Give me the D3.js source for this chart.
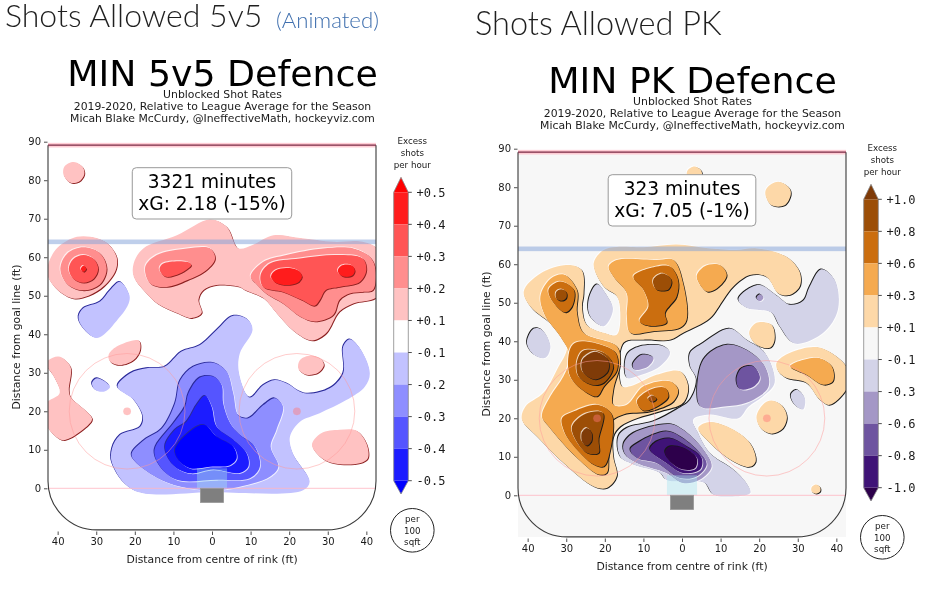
<!DOCTYPE html>
<html>
<head>
<meta charset="utf-8">
<title>MIN shots allowed</title>
<script src="https://cdn.jsdelivr.net/npm/d3@7"></script>
<style>
  body { margin: 0; background: #fff; }
  svg { display: block; filter: blur(0.3px); }
  text { font-family: "DejaVu Sans", sans-serif; fill: #1a1a1a; }
  .header { font-family: Lato, "Open Sans", sans-serif; font-weight: 300; fill: #1f1f1f; }
</style>
</head>
<body>
<svg id="chart" width="935" height="589"></svg>
<script>
// tick labels, top to bottom of each colourbar
var evenTicks = ["+0.5", "+0.4", "+0.3", "+0.2", "+0.1", "-0.1", "-0.2", "-0.3", "-0.4", "-0.5"];
var pkTicks = ["+1.0", "+0.8", "+0.6", "+0.3", "+0.1", "-0.1", "-0.3", "-0.6", "-0.8", "-1.0"];

// colours from above the top tick to below the bottom tick
var evenColours = ["#ff0000", "#ff1c1c", "#ff5555", "#ff8e8e", "#ffc2c2", "#ffffff", "#c2c2ff", "#8e8eff", "#5555ff", "#1c1cff", "#0000ff"];
var pkColours = ["#7f3b08", "#9c4e06", "#cb6e0f", "#f5aa50", "#fdd8a8", "#f7f7f7", "#d3d3e8", "#a497c6", "#6e54a0", "#3f1377", "#2d004b"];

// contour outlines, [feet from centre, feet from goal line]
// 5v5, excess shots above league average
var evenPlus1 = [
  [[-35.8,84.7],[-33.5,83.4],[-33.1,81.5],[-34.5,79.6],[-36.8,79.4],[-38.5,81.5],[-38.2,83.6]],
  [[-42.5,58],[-40,62.5],[-35,65.3],[-30,65],[-27,63.5],[-24.7,60],[-25,56.5],[-28,52.5],[-32,50],[-36,49.3],[-40,51.5],[-42.5,55]],
  [[-20.3,58.4],[-17.8,62.3],[-9.1,65.7],[-0.5,69.8],[3.8,67.9],[6.8,62.3],[10.5,63.2],[15.9,65.7],[22.8,65],[31.4,64],[39,64],[43,61.9],[43,50],[36.6,48],[33,45.9],[29.6,40.3],[25.9,38.4],[21,41],[16.7,45.5],[13.3,49.4],[8.5,51.5],[7.2,52.3],[1.2,52.8],[-2.2,51.5],[-3.5,49],[-2.7,45.5],[-5.3,44.2],[-9.1,45.5],[-14.2,48],[-17.8,51.5],[-20.3,55]],
  [[-26.8,34.6],[-24.7,36.8],[-19,38.4],[-18.6,36],[-20.3,33.3],[-23.8,32],[-26.4,32.9]],
  [[-43,32.5],[-39.8,34.2],[-36.7,31.6],[-37.1,25.5],[-36.7,23.8],[-31.1,18.2],[-32,16.5],[-38.4,12.5],[-41,13.9],[-43,16.9],[-43,22],[-39.5,24.7],[-41,29]],
  [[25.6,34.5],[28.2,33.6],[29,32],[27.5,30],[24.5,29.5],[22.4,31],[22.8,33.3]],
  [[25.9,11.3],[28.3,14.3],[33.1,15.2],[37.4,15],[40,11.7],[40.4,7.8],[38.3,6.5],[31.4,6.5],[28,8.2]]
];
var evenPlus2 = [
  [[-39.3,57],[-37.5,61],[-33.3,62.6],[-29,61],[-27.3,57],[-29,53],[-33.3,51.4],[-37.5,53]],
  [[-17.3,57.5],[-14.3,60.6],[-6.5,62.3],[-0.5,62.3],[0.8,59.7],[-1.4,56.7],[-6.5,54],[-11.7,52.3],[-16,53.2]],
  [[10,55],[13.3,58.8],[19.3,60.6],[28.8,62.3],[36.6,62.3],[41,60],[42.4,56.7],[41.7,51.5],[39,51],[35.7,50.6],[33.1,49],[31.4,45],[26.6,43.3],[22.8,44.6],[18.4,48],[14,50.6],[11.5,53]]
];
var evenPlus3 = [
  [[-37.1,57],[-36,59.5],[-33.3,60.6],[-30.6,59.5],[-29.5,57],[-30.6,54.5],[-33.3,53.4],[-36,54.5]],
  [[-13.6,57],[-12.6,58.4],[-6.5,58.8],[-5.4,58],[-8.3,55.8],[-12.2,55]],
  [[12.6,55.4],[15,58.4],[22.8,59.7],[32.2,60.6],[39,59.7],[40,56.7],[38.3,53.6],[33,52.3],[29.5,51.5],[28,49],[26.6,47.4],[23,49],[18.4,51],[13.3,52.3]]
];
var evenPlus4 = [
  [[-33.3,57.8],[-32.6,57],[-33.3,56.2],[-34,57]],
  [[15.3,55],[16.5,56.6],[19.3,57.2],[22.2,56.6],[23.3,55],[22.2,53.4],[19.3,52.8],[16.5,53.4]],
  [[32.6,56.5],[33.4,57.7],[34.8,58.1],[36.4,57.7],[37,56.5],[36.4,55.3],[34.8,54.9],[33.4,55.3]]
];
var evenMinus1 = [
  [[-23.8,53.6],[-21.4,50.2],[-21.6,48],[-23.8,44.6],[-29.8,39],[-33.7,42],[-34.6,44.6],[-33.3,46.8],[-29,48.5],[-26.4,51.5]],
  [[-31.1,27.3],[-29.8,28.6],[-26.4,26.4],[-28.1,25.1],[-30.2,25.5]],
  [[-24.5,26.4],[-21.2,29.9],[-16.9,31.2],[-12.2,31.6],[-7.9,35.5],[-3.1,37.2],[1.2,41.1],[5.5,44.8],[9.4,43.7],[10.5,41.1],[7.2,35],[7,29.9],[9.8,23.6],[13.3,26.8],[16.3,28.1],[19.3,27.3],[24,24.7],[30.5,26],[34,29.9],[34,36.8],[35.7,38.7],[38.3,36.4],[40.9,29.9],[39.6,26.4],[34.8,22.9],[27.9,19.5],[22.8,17.3],[20.2,13.4],[21,9],[25.3,1.7],[23.6,-0.5],[0,-1],[-20.3,-0.5],[-25.9,6.5],[-25.9,10.4],[-23.8,13.9],[-18.6,16],[-17.9,18.6],[-20.3,23]]
];
var evenMinus2 = [
  [[-20.8,9.1],[-17.5,12.6],[-13,15.5],[-9.6,22],[-8.2,28.1],[-4.8,31.6],[0.3,32.6],[3.8,30.3],[5.5,24.7],[6.8,19],[9.4,18.2],[13.3,21.6],[16.3,23.4],[18.4,21.2],[16.7,15.2],[15.2,10.8],[17.2,5.6],[15,3],[7.2,0.4],[0,-0.5],[-8,0.4],[-14,2.6],[-20.3,7.4]]
];
var evenMinus3 = [
  [[-14.9,10],[-10,16.9],[-7,21.2],[-6.1,24.7],[-3.1,28.8],[0.3,29],[2.5,26.8],[2.9,22],[4.7,16.9],[7.2,13.9],[11.1,10.8],[12.4,5.6],[9.8,2.6],[1.2,2.2],[-9.1,2.2],[-13.4,5.6]]
];
var evenMinus4 = [
  [[-12.2,10.8],[-9.6,15.2],[-6.6,17.3],[-4,21.6],[-1.8,24],[-0.1,21.2],[1.2,16],[5.5,12.6],[9,9],[9.4,5.6],[7.2,4],[0.3,4.9],[-5.7,3.9],[-10,6]]
];
var evenMinus5 = [
  [[-9.6,10],[-7.3,13.4],[-2.2,16.5],[1.2,13.4],[5.5,10.8],[6.4,7.8],[4.7,6],[-0.5,5.6],[-5.7,5.2],[-8.7,7.4]]
];

// penalty kill
var pkPlus1 = [
  [[3.2,85.4],[5,84.3],[5,82.5],[3.2,81.4],[1.4,82.5],[1.4,84.3]],
  [[24.9,81.4],[27.8,79.8],[28.2,78.1],[26.6,75.3],[23.2,75.3],[21.6,78.1],[22,79.8]],
  [[-22.9,60.2],[-20.3,63.7],[-16.9,64.5],[-10,64.4],[-1.4,65.1],[7.2,64.1],[14.1,63.7],[19.3,64.1],[27,62],[30.5,58],[30.5,54.2],[27.9,52],[25,52.4],[21.9,56.7],[17.6,57.2],[13.3,54.2],[10.7,50.8],[7.2,46],[0.3,42.2],[-3.1,40.4],[-10,40.4],[-15.2,39.6],[-15.6,28.3],[-13.4,28.3],[-6.6,31.3],[-0.5,32.2],[1.6,28.3],[0.3,24],[-5.7,21.8],[-11.7,20],[-16,17.9],[-17.8,15.3],[-17.8,10],[-16.9,5],[-19.5,1.9],[-22.9,2.3],[-30.7,8.4],[-37.6,15.3],[-41.5,19.7],[-40.6,23],[-35.9,26.6],[-32.4,32.6],[-29.8,38.7],[-33.3,43.9],[-39.3,49],[-41,53],[-36.7,57.6],[-29.8,59.8],[-26,58.5],[-25.5,52.4],[-25.9,49],[-24.7,44.3],[-20.3,42.2],[-16.9,41.7],[-16,47.4],[-16.9,51.7],[-20.3,54.2]],
  [[24.5,34.4],[28,37],[34.9,38.5],[40,36.1],[43,32.6],[43,28.3],[38.3,23.5],[35.7,24.8],[32.2,29.2],[27,30.5],[24.9,32.2]],
  [[17.4,42.2],[19.3,44.8],[23.2,44.3],[24,40.4],[22.8,38.3],[19.3,39.1]],
  [[19.3,20.3],[21,23.6],[23.2,24.6],[26,23.2],[27.2,20.3],[26,17.2],[23.2,16],[20.6,17.2]],
  [[4.2,17.5],[6.8,19],[11.6,17.9],[17.6,13.6],[19.1,8.8],[17.6,7.4],[13.3,8.8],[7.2,13.6]],
  [[34.7,2.8],[35.8,2.1],[35.8,1],[34.7,0.4],[33.6,1],[33.6,2.1]]
];
var pkPlus2 = [
  [[-19,59.4],[-16.9,61.1],[-6.6,61.1],[-2.2,61.1],[0.3,55],[1.2,45.6],[-0.5,43.5],[-7.4,42.6],[-13.4,42.2],[-14.3,46.5],[-14.3,52.4],[-17.8,56.8]],
  [[3.8,56.8],[5.9,59.5],[9.8,59.8],[11.6,57.2],[9,53.7],[6.4,52.9]],
  [[-36.7,51.6],[-34,56.3],[-30.5,57.3],[-27.2,53.3],[-27.2,47.4],[-25.5,42.2],[-16.9,38.7],[-16,34.4],[-17.8,27.4],[-17.8,23.5],[-14.3,23.5],[-10,28.3],[-3.1,29.6],[-1,27.4],[-2.2,24.4],[-8.3,21.8],[-15.2,21],[-18.6,18.8],[-19,10.1],[-19.5,5.8],[-21.6,5.4],[-27.2,9.7],[-34.6,17.9],[-36.3,20.5],[-34.1,25.7],[-30.7,30.9],[-29,36],[-31.6,41.3],[-35.4,46.5]],
  [[28,33.5],[34.9,35.7],[38.8,33.5],[39.1,29.6],[36.6,28.7],[32.2,31.3]]
];
var pkPlus3 = [
  [[-12.6,56.8],[-6.6,59.4],[-3.1,59.4],[-1,55.9],[-1.4,51.6],[-4.4,47.4],[-4,44.8],[-8.3,44],[-11,45.2],[-8.7,49],[-10,53.4]],
  [[-34.6,53.4],[-31.6,55.5],[-28,53.3],[-28.5,49],[-30.3,47.5],[-33.3,50]],
  [[-29,38],[-27.2,39.8],[-21,39.1],[-17.2,37],[-16.8,32.6],[-20.2,28.3],[-22,25.7],[-24.7,26.6],[-29,30.9]],
  [[-31.1,20],[-28,21.8],[-22,23.5],[-18.2,21],[-19,10],[-20.3,7.5],[-22.9,8],[-29,14],[-30.7,17]],
  [[-11.7,24.4],[-8.3,27.4],[-4.4,27.9],[-3.5,25.7],[-5.7,23.5],[-10,22]]
];
var pkPlus4 = [
  [[-5.1,57.6],[-3,56.4],[-2.7,55.2],[-3.6,53.4],[-6.6,53.4],[-7.5,55.2],[-7.2,56.4]],
  [[-31.3,53.5],[-30,52.8],[-30,51.2],[-31.3,50.5],[-32.6,51.2],[-32.6,52.8]],
  [[-27.2,34.8],[-25.5,37.6],[-20.3,37],[-17.8,33.5],[-20.3,29.2],[-23.4,28.7],[-26.8,30.9]],
  [[-28.5,17.9],[-25,21.2],[-20.5,21.4],[-21.6,14.5],[-21.6,11],[-24.6,11],[-27.6,14.5]],
  [[-7.7,25.9],[-6.6,25.1],[-7.7,24.3],[-8.8,25.1]]
];
var pkPlus5 = [
  [[-22.5,37.3],[-19.4,35.5],[-18.9,33.7],[-19.4,31.9],[-22.5,30.1],[-25.6,31.9],[-26.1,33.7],[-25.6,35.5]],
  [[-24.7,17.5],[-23.5,16.4],[-23.3,15.2],[-23.5,14],[-24.7,12.9],[-25.9,14],[-26.1,15.2],[-25.9,16.4]]
];
var pkMinus1 = [
  [[-24.2,50.8],[-22,54.8],[-19.5,52],[-17.9,48.2],[-20.3,43.9],[-23.8,46.5]],
  [[-40.2,39.6],[-38.4,43.3],[-36.3,43],[-34.1,38.7],[-35.4,35.7],[-38.4,36.5]],
  [[-14.3,36.5],[-10.9,38.7],[-4.8,38.7],[-3.1,37],[-5.7,33.5],[-11.7,30.9],[-14.3,30.5]],
  [[33.1,54.2],[36.1,58.7],[39.6,55.9],[40.4,48.2],[36.6,42.2],[29.2,39.4],[25.3,43.9],[23.2,47.4],[16.7,48.7],[14.6,50.8],[16.7,53.3],[20.2,54.6],[24.9,51.6],[27.9,49.5],[31.4,50.5]],
  [[2.1,37],[5.5,39.6],[12.4,43.3],[16.7,40.4],[21.5,37],[24,29.2],[21,25.7],[17.2,23],[14.6,20],[7.2,21],[2.9,19.7],[4.2,16.2],[7.2,11],[13.3,6.7],[16.7,3.2],[17.7,0.6],[12.4,-0.3],[8.1,0.2],[5.9,3.2],[2.1,3.6],[-4,4],[-5.7,5.8],[-12.6,8],[-16,10],[-16.5,15.3],[-14.3,17.5],[-7.4,19.2],[-1.4,22.3],[2.1,24.8],[3.8,30],[2.1,33.5]],
  [[28.2,26.1],[29.7,27.4],[31.8,25.3],[31.4,22.3],[29.2,23.5]]
];
var pkMinus2 = [
  [[-12.8,33.9],[-10.4,36.5],[-7.4,35.7],[-8.7,33.5],[-12.2,32.6]],
  [[20.2,52.2],[21.1,51.3],[20.2,50.4],[19.3,51.3]],
  [[4.2,24],[5.5,35.2],[11.6,39.1],[18.4,36.7],[21.9,32.6],[22.3,27.9],[16.7,24],[11.6,23.1],[5.5,22.7]],
  [[-15.2,13.2],[-12.6,16.2],[-3.1,18.5],[0.3,17],[5.5,11.9],[7.7,7.5],[4.7,4.1],[0.3,3.2],[-4,5.8],[-11.7,8.4],[-14.7,10.6]]
];
var pkMinus3 = [
  [[14.1,30],[15.4,33],[18.4,33.5],[20.2,30.5],[18.4,28.1],[15,27.6]],
  [[-13.4,11.9],[-10.9,14],[-4,16.6],[-0.5,15.3],[4.7,11],[6.4,8],[3.8,4.9],[-0.5,4.5],[-6.6,8.4],[-11.7,9.7]]
];
var pkMinus4 = [
  [[-8.3,11.9],[-6.6,14],[-3.1,14.8],[1.2,12.7],[5.1,9.7],[4.7,6.7],[0.3,5.8],[-4,8.4]]
];
var pkMinus5 = [
  [[-4.4,11.4],[-3.1,12.7],[0.3,12.3],[3.8,9.7],[3.4,7.1],[0.3,6.7],[-3.1,8.8]]
];

// tick values on the rink axes
var xTickValues = [-40, -30, -20, -10, 0, 10, 20, 30, 40];
var yTickValues = [0, 10, 20, 30, 40, 50, 60, 70, 80, 90];

// the side of the rink drawn the same way in both panels
var x = d3.scaleLinear().domain([-42.5, 42.5]).range([48, 376]);
var y = d3.scaleLinear().domain([90, 0]).range([141.7, 488.3]);
var contourLine = d3.line()
  .x(d => x(d[0]))
  .y(d => y(d[1]))
  .curve(d3.curveCatmullRomClosed.alpha(0.5));

var svg = d3.select("#chart");

// outline of the offensive zone, square at the top and rounded at the bottom
function rinkPath(closed) {
  var p = d3.path();
  var r = x(42.5) - x(29.8);
  p.moveTo(x(-42.5), y(89.1));
  p.lineTo(x(-42.5), y(4));
  p.arcTo(x(-42.5), y(-10.8), x(-29.8), y(-10.8), r);
  p.lineTo(x(29.8), y(-10.8));
  p.arcTo(x(42.5), y(-10.8), x(42.5), y(4), r);
  p.lineTo(x(42.5), y(89.1));
  if (closed) p.closePath();
  return p.toString();
}

function drawPanel(panel) {
  var g = svg.append("g").attr("transform", "translate(" + panel.dx + "," + panel.dy + ")");

  g.append("text").text(panel.title)
    .attr("x", 222.5).attr("y", 85.7).attr("text-anchor", "middle")
    .style("font-size", "36.3px").style("fill", "#000");
  var subtitles = ["Unblocked Shot Rates", "2019-2020, Relative to League Average for the Season", "Micah Blake McCurdy, @IneffectiveMath, hockeyviz.com"];
  g.selectAll(".sub").data(subtitles).join("text")
    .text(d => d)
    .attr("x", 222.5).attr("y", (d, i) => 97.7 + i * 12.2).attr("text-anchor", "middle")
    .style("font-size", "10.85px");

  // ice colour behind everything
  g.append("rect")
    .attr("x", x(-42.5)).attr("y", y(89.1))
    .attr("width", x(42.5) - x(-42.5)).attr("height", y(-10.8) - y(89.1))
    .attr("fill", panel.colours[5]);

  var clipId = "rink" + panel.dx;
  g.append("clipPath").attr("id", clipId).append("path").attr("d", rinkPath(true));
  var ice = g.append("g").attr("clip-path", "url(#" + clipId + ")");

  // contours go down from the weakest band, each with an embossed edge
  panel.levels.forEach(function(level) {
    var sign = level.band > 0 ? 1 : -1;
    var fill = panel.colours[5 - level.band];
    level.shapes.forEach(function(shape) {
      ice.append("path").attr("d", contourLine(shape))
        .attr("fill", "#fff").attr("opacity", 0.75)
        .attr("transform", "translate(" + (-sign * 0.8) + "," + (-sign * 0.8) + ")");
      ice.append("path").attr("d", contourLine(shape))
        .attr("fill", sign > 0 ? panel.edgeUp : panel.edgeDown)
        .attr("transform", "translate(" + (sign * 0.8) + "," + (sign * 0.8) + ")");
      ice.append("path").attr("d", contourLine(shape)).attr("fill", fill);
    });
  });

  // rink markings
  ice.append("rect")
    .attr("x", x(-3.9)).attr("y", y(5.2))
    .attr("width", x(3.9) - x(-3.9)).attr("height", y(0) - y(5.2))
    .attr("fill", "#a6e4f0").attr("opacity", 0.4);
  ice.append("rect")
    .attr("x", x(-42.5)).attr("y", y(64.6))
    .attr("width", x(42.5) - x(-42.5)).attr("height", y(63.4) - y(64.6))
    .attr("fill", "#7f9fd8").attr("opacity", 0.5);
  ice.append("line")
    .attr("x1", x(-42.5)).attr("x2", x(42.5)).attr("y1", y(0)).attr("y2", y(0))
    .attr("stroke", "#ffb6c1").attr("stroke-width", 1).attr("opacity", 0.8);
  [-22, 22].forEach(function(cx) {
    ice.append("ellipse")
      .attr("cx", x(cx)).attr("cy", y(20))
      .attr("rx", x(15) - x(0)).attr("ry", y(0) - y(15))
      .attr("fill", "none").attr("stroke", "#ff9999").attr("stroke-width", 1).attr("opacity", 0.5);
    ice.append("ellipse")
      .attr("cx", x(cx)).attr("cy", y(20))
      .attr("rx", x(1) - x(0)).attr("ry", y(0) - y(1))
      .attr("fill", "#ff7777").attr("opacity", 0.45);
  });
  ice.append("rect")
    .attr("x", x(-3)).attr("y", y(0))
    .attr("width", x(3) - x(-3)).attr("height", y(-3.7) - y(0))
    .attr("fill", "#7f7f7f").attr("stroke", "#999").attr("stroke-width", 0.8);

  g.append("rect")
    .attr("x", x(-42.5)).attr("y", y(89.7))
    .attr("width", x(42.5) - x(-42.5)).attr("height", y(88.5) - y(89.7))
    .attr("fill", "#ffc0cb").attr("opacity", 0.8);
  g.append("path").attr("d", rinkPath(false))
    .attr("fill", "none").attr("stroke", "#3a3a3a").attr("stroke-width", 1.1);
  g.append("line")
    .attr("x1", x(-42.5)).attr("x2", x(42.5)).attr("y1", y(89.1)).attr("y2", y(89.1))
    .attr("stroke", "#7a2a45").attr("stroke-width", 1.2);

  // minutes and xG box
  var box = g.append("g");
  var boxRect = box.append("rect");
  var boxText = box.append("text").attr("text-anchor", "middle").style("font-size", "18.6px").style("fill", "#000");
  panel.stats.forEach(function(line, i) {
    boxText.append("tspan").text(line).attr("x", x(0)).attr("y", 188 + i * 22);
  });
  var bb = boxText.node().getBBox();
  boxRect
    .attr("x", bb.x - 6).attr("y", 167.7)
    .attr("width", bb.width + 12).attr("height", 51.3)
    .attr("rx", 4).attr("fill", "#fff").attr("stroke", "#999").attr("stroke-width", 1);

  // axes
  var yAxis = d3.axisLeft(y).tickValues(yTickValues).tickSize(3.5).tickPadding(3);
  var gy = g.append("g").attr("transform", "translate(47.5,0)").call(yAxis);
  var xAxis = d3.axisBottom(x).tickValues(xTickValues).tickSize(3.5).tickPadding(3)
    .tickFormat(d => Math.abs(d));
  var gx = g.append("g").attr("transform", "translate(0,531.5)").call(xAxis);
  [gx, gy].forEach(function(a) {
    a.select(".domain").remove();
    a.selectAll("text").style("font-size", "10px").style("font-family", '"DejaVu Sans"').style("fill", "#1a1a1a");
    a.selectAll("line").attr("stroke", "#222").attr("stroke-width", 0.8);
  });
  g.append("text").text("Distance from centre of rink (ft)")
    .attr("x", x(0)).attr("y", 562.5).attr("text-anchor", "middle").style("font-size", "10.8px");
  g.append("text").text("Distance from goal line (ft)")
    .attr("transform", "translate(19.5,337) rotate(-90)").attr("text-anchor", "middle").style("font-size", "10.8px");

  drawColourbar(g, panel);
}

function drawColourbar(g, panel) {
  var barLeft = 393.7, barRight = 408.3, barMid = (barLeft + barRight) / 2;
  var bar = d3.scalePoint().domain(panel.ticks).range([192.3, 480.7]);
  var top = bar(panel.ticks[0]), bottom = bar(panel.ticks[panel.ticks.length - 1]);

  g.selectAll(".band").data(panel.ticks.slice(0, -1)).join("rect")
    .attr("x", barLeft).attr("width", barRight - barLeft)
    .attr("y", d => bar(d)).attr("height", bar.step())
    .attr("fill", (d, i) => panel.colours[i + 1]);
  g.append("path").attr("fill", panel.colours[0])
    .attr("d", d3.line()([[barLeft, top], [barMid, top - 15], [barRight, top]]));
  g.append("path").attr("fill", panel.colours[10])
    .attr("d", d3.line()([[barLeft, bottom], [barMid, bottom + 13.3], [barRight, bottom]]));
  g.append("path").attr("fill", "none").attr("stroke", "#888").attr("stroke-width", 0.8)
    .attr("d", d3.line()([[barLeft, top], [barMid, top - 15], [barRight, top], [barRight, bottom], [barMid, bottom + 13.3], [barLeft, bottom], [barLeft, top]]));

  g.selectAll(".barTick").data(panel.ticks).join("line")
    .attr("x1", barRight).attr("x2", barRight + 3.5)
    .attr("y1", d => bar(d)).attr("y2", d => bar(d))
    .attr("stroke", "#222").attr("stroke-width", 0.8);
  g.selectAll(".barLabel").data(panel.ticks).join("text")
    .text(d => d)
    .attr("x", 416.5).attr("y", d => bar(d) + 4.2)
    .style("font-family", '"DejaVu Sans Mono", monospace').style("font-size", "12px");

  var barTitle = ["Excess", "shots", "per hour"];
  g.selectAll(".barTitle").data(barTitle).join("text")
    .text(d => d)
    .attr("x", 412.3).attr("y", (d, i) => 144.3 + i * 11.6).attr("text-anchor", "middle")
    .style("font-size", "8.7px");

  g.append("circle").attr("cx", 412.3).attr("cy", 530.3).attr("r", 21.8)
    .attr("fill", "#fff").attr("stroke", "#222").attr("stroke-width", 1);
  var unit = ["per", "100", "sqft"];
  g.selectAll(".unit").data(unit).join("text")
    .text(d => d)
    .attr("x", 412.3).attr("y", (d, i) => 522.4 + i * 11.4).attr("text-anchor", "middle")
    .style("font-size", "8.7px");
}

drawPanel({
  dx: 0, dy: 0,
  title: "MIN 5v5 Defence",
  stats: ["3321 minutes", "xG: 2.18 (-15%)"],
  ticks: evenTicks,
  colours: evenColours,
  edgeUp: "#8b1f1f",
  edgeDown: "#2a2a9a",
  levels: [
    {band: 1, shapes: evenPlus1}, {band: -1, shapes: evenMinus1},
    {band: 2, shapes: evenPlus2}, {band: -2, shapes: evenMinus2},
    {band: 3, shapes: evenPlus3}, {band: -3, shapes: evenMinus3},
    {band: 4, shapes: evenPlus4}, {band: -4, shapes: evenMinus4},
    {band: -5, shapes: evenMinus5}
  ]
});

drawPanel({
  dx: 470, dy: 7,
  title: "MIN PK Defence",
  stats: ["323 minutes", "xG: 7.05 (-1%)"],
  ticks: pkTicks,
  colours: pkColours,
  edgeUp: "#1a1a1a",
  edgeDown: "#1a1a1a",
  levels: [
    {band: 1, shapes: pkPlus1}, {band: -1, shapes: pkMinus1},
    {band: 2, shapes: pkPlus2}, {band: -2, shapes: pkMinus2},
    {band: 3, shapes: pkPlus3}, {band: -3, shapes: pkMinus3},
    {band: 4, shapes: pkPlus4}, {band: -4, shapes: pkMinus4},
    {band: 5, shapes: pkPlus5}, {band: -5, shapes: pkMinus5}
  ]
});

// page headings above the two figures
svg.append("text").attr("class", "header").attr("x", 5).attr("y", 27).style("font-size", "32px").text("Shots Allowed 5v5");
svg.append("text").attr("class", "header").attr("x", 276).attr("y", 28).style("font-size", "22.2px").style("fill", "#3f6fae").text("(Animated)");
svg.append("text").attr("class", "header").attr("x", 475).attr("y", 34.5).style("font-size", "32.5px").text("Shots Allowed PK");
</script>
</body>
</html>
